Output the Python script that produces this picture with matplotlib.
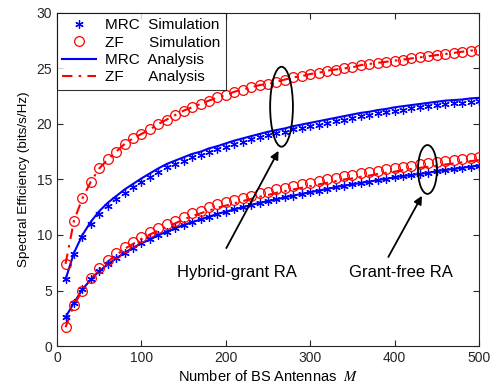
import matplotlib
matplotlib.use("Agg")
import matplotlib.pyplot as plt
from matplotlib.patches import Ellipse

plt.rcParams["font.family"] = ["Liberation Sans", "DejaVu Sans"]
plt.rcParams["mathtext.fontset"] = "stix"

# ---------------------------------------------------------------------------
# Data
# ---------------------------------------------------------------------------

M = [10, 20, 30, 40, 50, 60, 70, 80, 90, 100,
     110, 120, 130, 140, 150, 160, 170, 180, 190, 200,
     210, 220, 230, 240, 250, 260, 270, 280, 290, 300,
     310, 320, 330, 340, 350, 360, 370, 380, 390, 400,
     410, 420, 430, 440, 450, 460, 470, 480, 490, 500]

# Hybrid-grant RA
hyb_zf_sim = [7.4, 11.3, 13.3, 14.8, 16.0, 16.8, 17.5, 18.2, 18.7, 19.1,
              19.5, 20.0, 20.4, 20.8, 21.2, 21.5, 21.8, 22.1, 22.4, 22.6,
              22.9, 23.1, 23.3, 23.5, 23.6, 23.8, 24.0, 24.2, 24.3, 24.5,
              24.6, 24.8, 24.9, 25.0, 25.1, 25.3, 25.4, 25.5, 25.6, 25.7,
              25.8, 25.9, 26.0, 26.1, 26.2, 26.3, 26.4, 26.5, 26.6, 26.7]
hyb_zf_ana = hyb_zf_sim

hyb_mrc_sim = [6.0, 8.3, 9.8, 11.0, 11.9, 12.6, 13.2, 13.8, 14.3, 14.8,
               15.25, 15.7, 16.1, 16.4, 16.7, 17.0, 17.2, 17.5, 17.7, 17.95,
               18.2, 18.4, 18.6, 18.8, 19.0, 19.15, 19.3, 19.5, 19.65, 19.8,
               19.95, 20.1, 20.25, 20.4, 20.55, 20.7, 20.8, 20.95, 21.05, 21.2,
               21.3, 21.4, 21.5, 21.6, 21.7, 21.8, 21.85, 21.9, 22.0, 22.05]
hyb_mrc_ana = [6.0, 8.4, 10.0, 11.2, 12.15, 12.9, 13.5, 14.1, 14.6, 15.1,
               15.55, 16.0, 16.4, 16.7, 17.0, 17.3, 17.5, 17.8, 18.0, 18.25,
               18.5, 18.7, 18.9, 19.1, 19.3, 19.45, 19.6, 19.8, 19.95, 20.1,
               20.25, 20.4, 20.55, 20.7, 20.85, 21.0, 21.1, 21.25, 21.35, 21.5,
               21.6, 21.7, 21.8, 21.9, 22.0, 22.1, 22.15, 22.2, 22.3, 22.35]

# Grant-free RA
gf_zf_sim = [1.7, 3.7, 5.0, 6.1, 7.0, 7.75, 8.35, 8.95, 9.4, 9.85,
             10.3, 10.65, 11.0, 11.3, 11.65, 11.95, 12.2, 12.5, 12.75, 12.95,
             13.15, 13.35, 13.55, 13.75, 13.9, 14.1, 14.25, 14.4, 14.55, 14.7,
             14.85, 15.0, 15.15, 15.3, 15.4, 15.55, 15.65, 15.8, 15.9, 16.0,
             16.15, 16.25, 16.35, 16.45, 16.55, 16.65, 16.75, 16.85, 16.95, 17.05]
gf_zf_ana = [1.7, 3.7, 5.0, 6.0, 6.9, 7.6, 8.2, 8.75, 9.2, 9.65,
             10.05, 10.4, 10.75, 11.05, 11.4, 11.7, 11.95, 12.2, 12.45, 12.65,
             12.85, 13.05, 13.25, 13.45, 13.6, 13.8, 13.95, 14.1, 14.25, 14.4,
             14.55, 14.7, 14.85, 15.0, 15.1, 15.25, 15.35, 15.5, 15.6, 15.7,
             15.85, 15.95, 16.05, 16.15, 16.25, 16.35, 16.45, 16.55, 16.65, 16.75]

gf_mrc_sim = [2.6, 3.9, 5.1, 6.0, 6.75, 7.35, 7.9, 8.4, 8.85, 9.25,
              9.6, 10.0, 10.3, 10.6, 10.9, 11.15, 11.4, 11.65, 11.9, 12.1,
              12.3, 12.5, 12.7, 12.9, 13.05, 13.2, 13.4, 13.55, 13.7, 13.85,
              14.0, 14.15, 14.3, 14.45, 14.55, 14.7, 14.8, 14.95, 15.05, 15.2,
              15.3, 15.4, 15.5, 15.6, 15.75, 15.85, 15.95, 16.05, 16.15, 16.25]
gf_mrc_ana = gf_mrc_sim

BLUE = "#0000ff"
RED = "#ff0000"
ASTERISK = (6, 2, 0)
DASHDOT = (0, (5, 3, 1.2, 3))

# ---------------------------------------------------------------------------
# Plot
# ---------------------------------------------------------------------------

fig = plt.figure(figsize=(5.01, 3.91), dpi=100)
ax = fig.add_axes([0.114, 0.115, 0.842, 0.852])

for sim, ana in [(hyb_mrc_sim, hyb_mrc_ana), (gf_mrc_sim, gf_mrc_ana)]:
    ax.plot(M, ana, color=BLUE, lw=1.5, zorder=2)
    ax.plot(M, sim, ls="none", marker=ASTERISK, ms=6, mec=BLUE, mew=0.9,
            color=BLUE, zorder=3)

for sim, ana in [(hyb_zf_sim, hyb_zf_ana), (gf_zf_sim, gf_zf_ana)]:
    ax.plot(M, ana, color=RED, lw=1.5, ls=DASHDOT, zorder=2)
    ax.plot(M, sim, ls="none", marker="o", ms=7, mfc="none", mec=RED,
            mew=0.9, zorder=3)

# Legend built from proxy handles
h_mrc_sim, = ax.plot([], [], ls="none", marker=ASTERISK, ms=6, mec=BLUE, mew=0.9)
h_zf_sim, = ax.plot([], [], ls="none", marker="o", ms=7, mfc="none", mec=RED, mew=0.9)
h_mrc_ana, = ax.plot([], [], color=BLUE, lw=1.5)
h_zf_ana, = ax.plot([], [], color=RED, lw=1.5, ls=DASHDOT)
leg = ax.legend([h_mrc_sim, h_zf_sim, h_mrc_ana, h_zf_ana],
                ["MRC  Simulation", "ZF      Simulation",
                 "MRC  Analysis", "ZF      Analysis"],
                loc="upper left", fontsize=11, frameon=True, fancybox=False,
                borderaxespad=0, handlelength=2.2, labelspacing=0.22,
                borderpad=0.35, handletextpad=0.6)
leg.get_frame().set_edgecolor("black")
leg.get_frame().set_linewidth(0.8)

# Annotations
ax.add_patch(Ellipse((266, 21.55), 27, 7.2, fill=False, ec="black", lw=1.3, zorder=4))
ax.add_patch(Ellipse((439, 15.9), 22.5, 4.4, fill=False, ec="black", lw=1.3, zorder=4))
arrow = dict(arrowstyle="-|>", color="black", lw=1.3, mutation_scale=12)
ax.annotate("", xy=(264, 17.8), xytext=(199, 8.6), arrowprops=arrow)
ax.annotate("", xy=(434, 13.75), xytext=(391, 7.8), arrowprops=arrow)
ax.text(213, 6.6, "Hybrid-grant RA", fontsize=12, ha="center", va="center")
ax.text(408, 6.6, "Grant-free RA", fontsize=12, ha="center", va="center")

ax.set_xlim(0, 500)
ax.set_ylim(0, 30)
ax.set_xticks(range(0, 501, 100))
ax.set_yticks(range(0, 31, 5))
ax.tick_params(direction="in", top=True, right=True, labelsize=10,
               length=4, width=0.8, colors="#262626")
for s in ax.spines.values():
    s.set_color("#262626")
    s.set_linewidth(0.8)

ax.set_xlabel(r"Number of BS Antennas  $M$", fontsize=10.5, labelpad=3)
ax.set_ylabel("Spectral Efficiency (bits/s/Hz)", fontsize=9.7, labelpad=5)

fig.savefig("out.png", dpi=100)
